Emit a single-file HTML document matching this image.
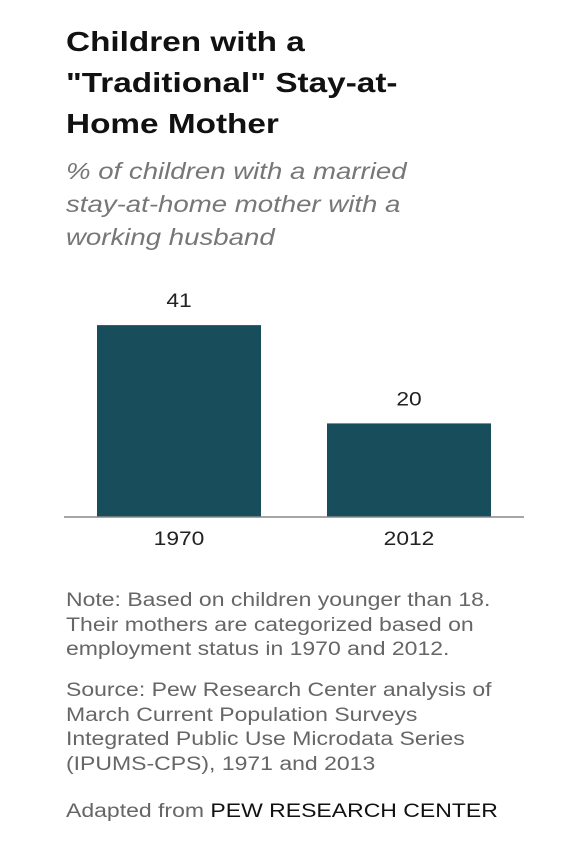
<!DOCTYPE html>
<html><head><meta charset="utf-8"><style>
body{margin:0;width:577px;height:843px;background:#fff;font-family:"Liberation Sans",sans-serif;position:relative;overflow:hidden}
.t{position:absolute;left:66px;top:21px;font-size:28px;font-weight:bold;line-height:41px;color:#111;margin:0;transform:scaleX(1.19);transform-origin:0 0;white-space:nowrap}
.s{position:absolute;left:66px;top:155px;font-size:23px;font-style:italic;line-height:33px;color:#777;margin:0;transform:scaleX(1.2);transform-origin:0 0;white-space:nowrap}
.n{position:absolute;left:66px;font-size:19px;line-height:24.7px;color:#666;margin:0;transform:scaleX(1.21);transform-origin:0 0;white-space:nowrap}
svg{position:absolute;left:0;top:0}
</style></head><body>
<h1 class="t">Children with a<br>"Traditional" Stay-at-<br>Home Mother</h1>
<p class="s">% of children with a married<br>stay-at-home mother with a<br>working husband</p>
<svg width="577" height="843" id="c"></svg>
<p class="n" style="top:589px">Note: Based on children younger than 18.<br>Their mothers are categorized based on<br>employment status in 1970 and 2012.</p>
<p class="n" style="top:679px">Source: Pew Research Center analysis of<br>March Current Population Surveys<br>Integrated Public Use Microdata Series<br>(IPUMS-CPS), 1971 and 2013</p>
<p class="n" style="top:800px">Adapted from <span style="color:#111">PEW RESEARCH CENTER</span></p>
<script>
const categories=["1970","2012"];
const values=[41,20];
const svg=document.getElementById('c');
const NS="http://www.w3.org/2000/svg";
const base=517, pxPer=4.68, x0=97, step=230, bw=164;
const y=v=>base-v*pxPer;
const xb=i=>x0+i*step;
function sx(el,cx){el.setAttribute('transform','translate('+cx+',0) scale(1.2,1) translate('+(-cx)+',0)');}
categories.forEach((c,i)=>{
  const r=document.createElementNS(NS,'rect');
  r.setAttribute('x',xb(i));r.setAttribute('y',y(values[i]));r.setAttribute('width',bw);r.setAttribute('height',base-y(values[i]));r.setAttribute('fill','#184e5c');
  
  
  svg.appendChild(r);
  const cx=xb(i)+bw/2;
  const v=document.createElementNS(NS,'text');
  v.setAttribute('x',cx);v.setAttribute('y',y(values[i])-18);v.setAttribute('text-anchor','middle');v.setAttribute('font-size','19');v.setAttribute('fill','#222');v.textContent=values[i];sx(v,cx);
  
  
  svg.appendChild(v);
  const l=document.createElementNS(NS,'text');
  l.setAttribute('x',cx);l.setAttribute('y',base+28);l.setAttribute('text-anchor','middle');l.setAttribute('font-size','19');l.setAttribute('fill','#222');l.textContent=c;sx(l,cx);
  
  
  svg.appendChild(l);
});
const ax=document.createElementNS(NS,'line');
ax.setAttribute('x1',64);ax.setAttribute('x2',524);ax.setAttribute('y1',base);ax.setAttribute('y2',base);ax.setAttribute('stroke','#888');ax.setAttribute('stroke-width','1.5');


svg.appendChild(ax);
</script>
</body></html>
